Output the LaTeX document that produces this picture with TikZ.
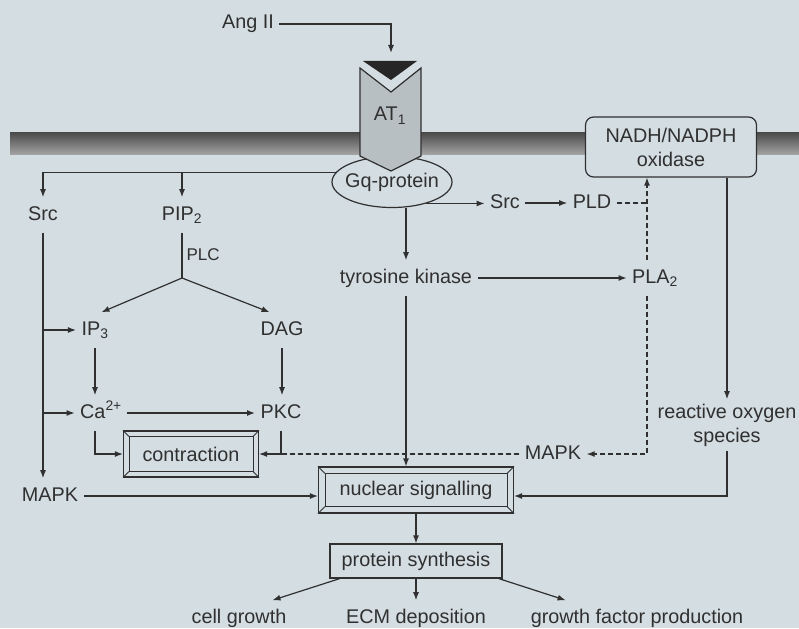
\documentclass[tikz,border=0pt]{standalone}
\usepackage{fontspec}
\setmainfont{Liberation Sans}
\usetikzlibrary{arrows.meta,shapes.geometric}
\definecolor{bg}{RGB}{212,221,226}
\definecolor{ink}{RGB}{48,48,48}
\definecolor{recgray}{RGB}{184,191,195}
\begin{document}
\begin{tikzpicture}[x=1pt, y=-1pt, line width=1.2pt, color=ink,
  every node/.style={font=\fontsize{19.8pt}{24pt}\selectfont, text=ink},
  lab/.style={inner xsep=5pt, inner ysep=8pt, text height=14.2pt, text depth=4.2pt},
  arr/.style={-{Latex[length=8pt,width=6pt]}},
  dsh/.style={dash pattern=on 5pt off 3pt},
  bevbox/.style={draw, fill=bg, minimum height=46pt}]
\useasboundingbox (0,0) rectangle (799,628);
\fill[bg] (0,0) rectangle (799,628);
\shade[top color=black!70, bottom color=black!35] (10,133) rectangle (799,155);
\node[ellipse, draw, fill=bg, minimum width=120pt, minimum height=51pt, inner xsep=-4.5pt, inner ysep=0pt] (gq) at (392,182){Gq-protein};
\filldraw[fill=recgray] (360,68) -- (391,92) -- (421,68) -- (421,156) -- (391,171) -- (360,156) -- cycle;
\fill[black!85] (363,61) -- (417,61) -- (391,80) -- cycle;
\node[lab] (at1) at (390,116){AT\textsubscript{1}};
\node[lab] (ang) at (248,24){Ang II};
\coordinate (lig) at (391,53);
\draw[arr](ang) -| (lig);
\node[draw, rounded corners=8pt, fill=bg, minimum width=171pt, minimum height=60pt, align=center] (nox) at (671,147){NADH/NADPH\\oxidase};
\node[lab] (src1) at (43,215){Src};
\node[lab] (pip2) at (182,215){PIP\textsubscript{2}};
\draw[arr](gq.170) -| (src1);
\draw[arr](pip2 |- gq.170) -- (pip2);
\node[lab] (src2) at (505,203){Src};
\node[lab] (pld) at (592,203){PLD};
\draw[arr](gq.-32) -- (gq.-32 -| src2.west);
\draw[arr](src2) -- (pld);
\coordinate (dj) at (647,203);
\node[lab] (tk) at (406,278){tyrosine kinase};
\node[lab] (pla2) at (655,278){PLA\textsubscript{2}};
\draw[arr](tk |- gq.south) -- (tk);
\draw[arr](tk) -- (pla2);
\draw[dsh](pld) -- (dj);
\draw[dsh, arr](dj |- pla2.north) -- (dj |- nox.south);
\node[font=\fontsize{17pt}{20pt}\selectfont, anchor=west, inner sep=2pt] (plcl) at (184,255){PLC};
\coordinate (plc) at (182,278);
\node[lab] (ip3) at (95,330){IP\textsubscript{3}};
\node[lab] (dag) at (282,330){DAG};
\draw[](pip2) -- (plc);
\draw[arr](plc) -- (ip3.70);
\draw[arr](plc) -- (dag.125);
\node[lab] (ca) at (101,413){Ca\textsuperscript{2+}};
\node[lab] (pkc) at (281,413){PKC};
\draw[arr](ip3) -- (ip3 |- ca.north);
\draw[arr](dag) -- (dag |- pkc.north);
\draw[arr](ca) -- (pkc);
\node[lab] (mapk1) at (50,496){MAPK};
\draw[arr](src1) -- (src1 |- mapk1.north);
\draw[arr](src1 |- ip3) -- (ip3);
\draw[arr](src1 |- ca) -- (ca);
\node[inner sep=4pt, align=center] (ros) at (727,425){reactive oxygen\\species};
\draw[arr](ros |- nox.south) -- (ros);
\node[bevbox, minimum width=135pt] (contr) at (191,454){contraction};
\node[lab] (mapk2) at (553,454){MAPK};
\draw[arr](ca.south -| ip3) |- (contr);
\draw[arr](pkc) |- (contr);
\draw[dsh](mapk2) -- (mapk2 -| pkc);
\draw[dsh, arr](dj |- pla2.south) |- (mapk2);
\node[bevbox, minimum width=195pt] (nuc) at (416,490){nuclear signalling};
\draw[arr](tk) -- (tk |- nuc.north);
\draw[arr](mapk1) -- (mapk1 -| nuc.west);
\draw[arr](ros) |- (mapk1 -| nuc.east);
\node[draw, fill=bg, minimum width=172pt, minimum height=34pt] (prot) at (416,561){protein synthesis};
\draw[arr](nuc) -- (prot);
\node[lab] (cg) at (239,618){cell growth};
\node[lab] (ecm) at (416,618){ECM deposition};
\node[lab] (gfp) at (637,618){growth factor production};
\draw[arr](prot.-167) -- (cg.28);
\draw[arr](prot) -- (ecm);
\draw[arr](prot.-12) -- (gfp.166);
\draw[line width=0.8pt] ([shift={(6pt,-6pt)}]contr.north west) rectangle ([shift={(-6pt,6pt)}]contr.south east);
\draw[line width=0.8pt] (contr.north west) -- ++(6pt,-6pt) (contr.north east) -- ++(-6pt,-6pt) (contr.south west) -- ++(6pt,6pt) (contr.south east) -- ++(-6pt,6pt);
\draw[line width=0.8pt] ([shift={(7pt,-7pt)}]nuc.north west) rectangle ([shift={(-7pt,7pt)}]nuc.south east);
\draw[line width=0.8pt] (nuc.north west) -- ++(7pt,-7pt) (nuc.north east) -- ++(-7pt,-7pt) (nuc.south west) -- ++(7pt,7pt) (nuc.south east) -- ++(-7pt,7pt);
\end{tikzpicture}
\end{document}
